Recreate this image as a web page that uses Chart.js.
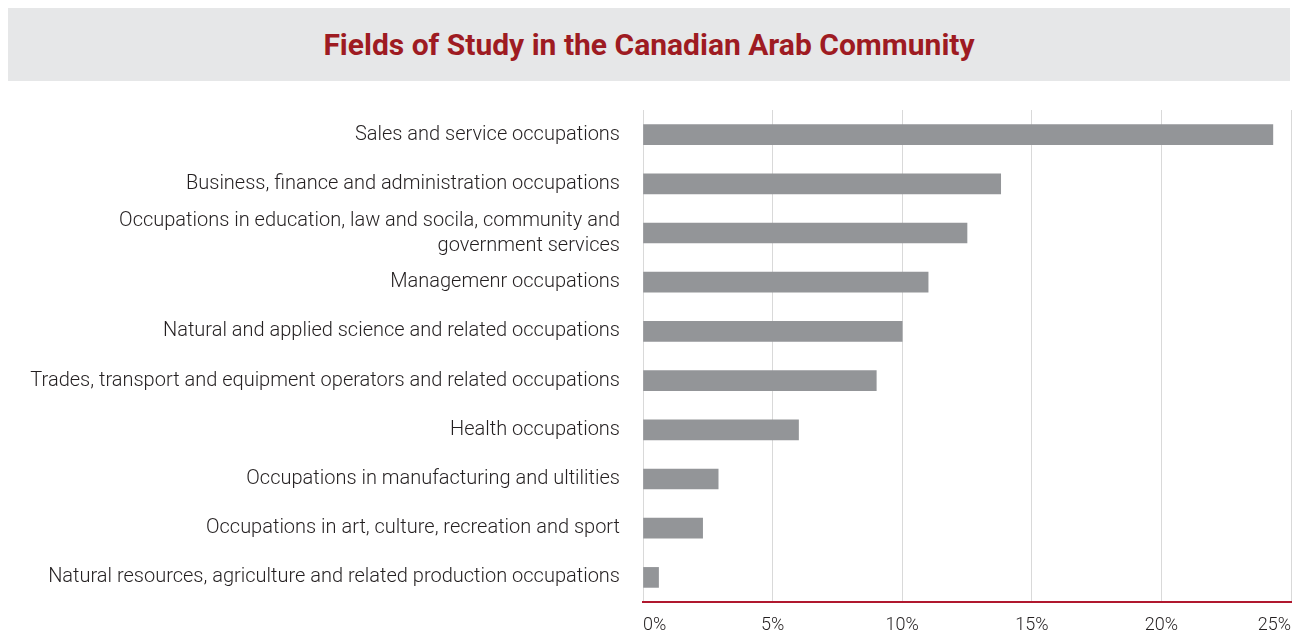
<!DOCTYPE html>
<html>
<head>
<meta charset="utf-8">
<script src="https://cdn.jsdelivr.net/npm/chart.js@4"></script>
<style>
  html, body { margin: 0; padding: 0; background: #fff; overflow: hidden; }
  #wrap { position: relative; width: 1293px; height: 631px; }
  #banner {
    position: absolute; left: 8px; top: 8px; width: 1282px; height: 73px;
    background: #e6e7e8; color: #9e1b22;
    font: bold 30px Roboto, sans-serif; line-height: 73px; text-align: center;
  }
  #fields { position: absolute; left: 0; top: 0; }
</style>
</head>
<body>
<div id="wrap">
  <div id="banner">Fields of Study in the Canadian Arab Community</div>
  <canvas id="fields" width="1293" height="631"></canvas>
</div>
<script>
// occupations, largest share first
const occupations = [
  'Sales and service occupations',
  'Business, finance and administration occupations',
  ['Occupations in education, law and socila, community and', 'government services'],
  'Managemenr occupations',
  'Natural and applied science and related occupations',
  'Trades, transport and equipment operators and related occupations',
  'Health occupations',
  'Occupations in manufacturing and ultilities',
  'Occupations in art, culture, recreation and sport',
  'Natural resources, agriculture and related production occupations'
];
// share of the community, in %
const shares = [24.3, 13.8, 12.5, 11.0, 10.0, 9.0, 6.0, 2.9, 2.3, 0.6];
const axisMax = 25;
const axisStep = 5;

const labelFont = { family: 'Roboto', size: 20, weight: '300', lineHeight: 1.25 };
const tickFont = { family: 'Roboto', size: 18, weight: '300' };

const ctx = document.getElementById('fields').getContext('2d');
const fieldsChart = new Chart(ctx, {
  type: 'bar',
  data: {
    labels: occupations,
    datasets: [{
      data: shares,
      backgroundColor: '#939598',
      barThickness: 20
    }]
  },
  options: {
    indexAxis: 'y',
    responsive: false,
    animation: false,
    layout: { padding: { top: 110, right: 2, left: 0, bottom: 0 } },
    plugins: {
      legend: { display: false },
      tooltip: { enabled: false }
    },
    scales: {
      x: {
        min: 0,
        max: axisMax,
        ticks: {
          stepSize: axisStep,
          align: 'inner',
          padding: 13,
          color: '#231f20',
          font: tickFont,
          callback: v => v + '%'
        },
        grid: { color: '#d9d9d9', drawTicks: false },
        border: { color: '#b0182e', width: 2 },
        afterFit: s => {
          s.height = 29;
          s.paddingLeft = 0;
          s.paddingRight = 0;
        }
      },
      y: {
        ticks: { autoSkip: false, padding: 23, color: '#231f20', font: labelFont },
        grid: { display: false, drawTicks: false },
        border: { display: false },
        afterFit: s => {
          s.width = 643;
          s.paddingTop = 0;
          s.paddingBottom = 0;
        }
      }
    }
  }
});
</script>
</body>
</html>
